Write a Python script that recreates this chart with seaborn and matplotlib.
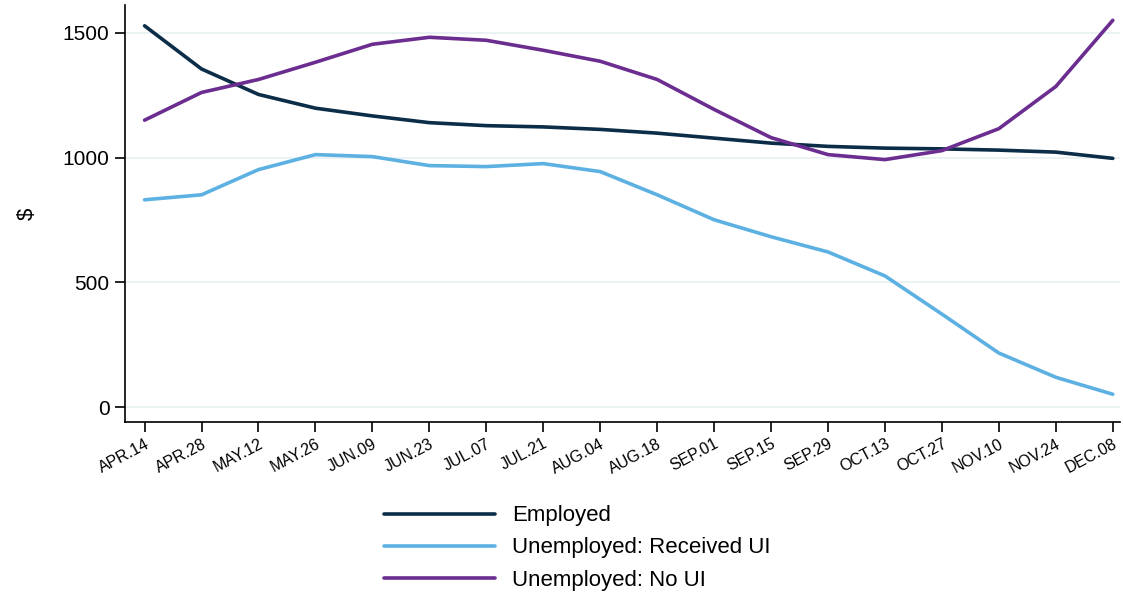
import numpy as np
import pandas as pd
import matplotlib
matplotlib.use("Agg")
import matplotlib.pyplot as plt
import seaborn as sns

weeks = ["APR.14", "APR.28", "MAY.12", "MAY.26", "JUN.09", "JUN.23", "JUL.07", "JUL.21", "AUG.04",
         "AUG.18", "SEP.01", "SEP.15", "SEP.29", "OCT.13", "OCT.27", "NOV.10", "NOV.24", "DEC.08"]

employed = [1528, 1355, 1253, 1198, 1167, 1140, 1128, 1123, 1113,
            1098, 1078, 1058, 1045, 1038, 1035, 1030, 1022, 997]
received_ui = [831, 851, 952, 1012, 1004, 968, 964, 976, 944,
               851, 751, 683, 622, 526, 373, 217, 120, 52]
no_ui = [1150, 1261, 1313, 1382, 1454, 1482, 1470, 1430, 1386,
         1313, 1193, 1080, 1012, 992, 1028, 1116, 1285, 1550]

series = ["Employed", "Unemployed: Received UI", "Unemployed: No UI"]
colors = ["#0c2d48", "#5db1e2", "#6b2d8f"]

df = pd.DataFrame({
    "week": np.tile(np.arange(len(weeks)), 3),
    "value": employed + received_ui + no_ui,
    "group": np.repeat(series, len(weeks)),
})

sns.set_style("white")
plt.rcParams["font.family"] = ["Liberation Sans", "DejaVu Sans"]
plt.rcParams["text.color"] = "black"
plt.rcParams["xtick.color"] = "black"
plt.rcParams["ytick.color"] = "black"
plt.rcParams["axes.labelcolor"] = "black"

fig = plt.figure(figsize=(11.23, 5.93), dpi=100)
ax = fig.add_axes([0.111, 0.288, 0.886, 0.703])

sns.lineplot(data=df, x="week", y="value", hue="group", hue_order=series,
             palette=colors, linewidth=2.6, ax=ax, legend=True)

ax.set_xlim(-0.35, 17.12)
ax.set_ylim(-60, 1610)
ax.set_yticks([0, 500, 1000, 1500])
ax.set_xticks(range(len(weeks)))
ax.set_xticklabels(weeks, rotation=28, ha="right", rotation_mode="anchor", fontsize=11.5)
ax.tick_params(axis="y", labelsize=15, length=7, width=1.2, direction="out", left=True, pad=4)
ax.tick_params(axis="x", length=7, width=1.2, direction="out", bottom=True, pad=3)
ax.yaxis.grid(True, color="#e6f0f2", linewidth=1.2)
ax.xaxis.grid(False)
for s in ["top", "right"]:
    ax.spines[s].set_visible(False)
for s in ["left", "bottom"]:
    ax.spines[s].set_color("black")
    ax.spines[s].set_linewidth(1.2)

ax.set_xlabel("")
ax.set_ylabel("$", fontsize=16, labelpad=18)

handles, labels = ax.get_legend_handles_labels()
ax.get_legend().remove()
fig.legend(handles, labels, loc="center", bbox_to_anchor=(0.514, 0.076),
           frameon=False, fontsize=16, handlelength=5.0, handletextpad=0.8,
           labelspacing=0.5)

fig.savefig("out.png", dpi=100)
